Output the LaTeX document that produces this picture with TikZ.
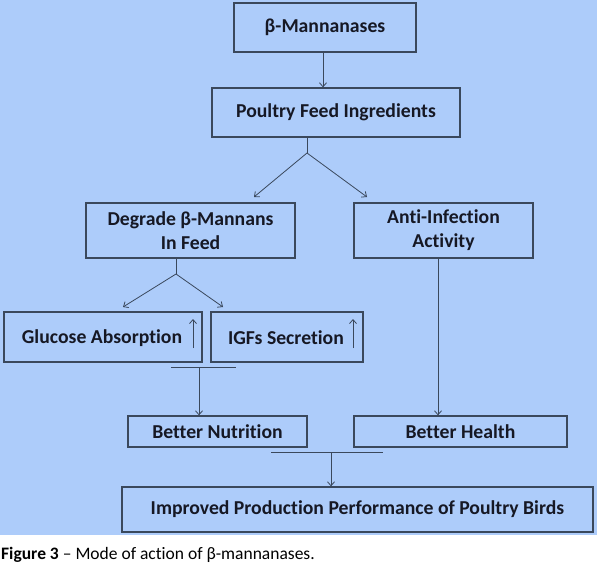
\documentclass[tikz,border=0pt]{standalone}
\usepackage{fontspec}
\setmainfont{Carlito}[Ligatures=NoCommon]
\usetikzlibrary{arrows.meta}
\definecolor{bg}{RGB}{173,204,250}
\definecolor{edge}{RGB}{58,72,92}
\definecolor{ink}{RGB}{22,24,36}
\tikzset{
  boxfont/.style={text=ink, font=\fontsize{19.7}{24}\selectfont\bfseries},
  box/.style={draw=edge, line width=1.3pt, inner sep=0pt, boxfont, align=center},
  conn/.style={draw=edge, line width=0.8pt},
  arr/.style={conn, -{Straight Barb[length=4pt,width=7pt]}},
}
\begin{document}
\begin{tikzpicture}[x=1pt,y=-1pt]
\useasboundingbox (0,0) rectangle (597,568);
\fill[bg] (0,0) rectangle (597,535);
% boxes
\node[box, minimum width=182pt, minimum height=49pt] (beta) at (325,27.5) {β-Mannanases};
\node[box, minimum width=248pt, minimum height=49pt] (pfi) at (336,112.5) {Poultry Feed Ingredients};
\node[box, minimum width=209pt, minimum height=55pt] (deg) at (190.5,230.5) {Degrade β-Mannans\\In Feed};
\node[box, minimum width=179pt, minimum height=55pt] (anti) at (443.5,230.5) {Anti-Infection\\Activity};
\node[box, minimum width=198pt, minimum height=50pt] (glu) at (103,337) {};
\node[box, minimum width=152pt, minimum height=50pt] (igf) at (287,337) {};
\node[boxfont, inner sep=0pt, anchor=center] (glut) at (102,338) {Glucose Absorption};
\node[boxfont, inner sep=0pt, anchor=center] (igft) at (286,338) {IGFs Secretion};
\node[box, minimum width=179pt, minimum height=31pt] (nut) at (217.5,431.5) {Better Nutrition};
\node[box, minimum width=213pt, minimum height=31pt] (hea) at (460.5,431.5) {Better Health};
\node[box, minimum width=471pt, minimum height=45pt] (imp) at (357.5,509.5) {Improved Production Performance of Poultry Birds};
% up arrows in boxes
\coordinate (ga1) at (193,348); \coordinate (ga2) at (193,319);
\coordinate (ia1) at (353,348); \coordinate (ia2) at (353,319);
\draw[arr] (ga1) -- (ga2);
\draw[arr] (ia1) -- (ia2);
% connectors
\draw[arr] (beta.south -| 323,0) -- (pfi.north -| 323,0);
\coordinate (s1) at (307,153);
\draw[conn] (pfi.south -| s1) -- (s1);
\draw[arr] (s1) -- (254,197);
\draw[arr] (s1) -- (367,197);
\coordinate (s2) at (176,274);
\draw[conn] (deg.south -| s2) -- (s2);
\draw[arr] (s2) -- (123,307);
\draw[arr] (s2) -- (223,307);
\coordinate (h1a) at (171,367); \coordinate (h1b) at (236,367); \coordinate (h1c) at (199,367);
\draw[conn] (h1a) -- (h1b);
\draw[arr] (h1c) -- (nut.north -| h1c);
\coordinate (av) at (438,258);
\draw[arr] (anti.south -| av) -- (hea.north -| av);
\coordinate (h2a) at (271,452); \coordinate (h2b) at (383,452); \coordinate (h2c) at (331,452);
\draw[conn] (h2a) -- (h2b);
\draw[arr] (h2c) -- (imp.north -| h2c);
% caption
\node[anchor=base west, inner sep=0pt, text=black, font=\fontsize{17.5}{20}\selectfont] (cap) at (1,559) {\textbf{Figure 3} – Mode of action of β-mannanases.};
\end{tikzpicture}
\end{document}
